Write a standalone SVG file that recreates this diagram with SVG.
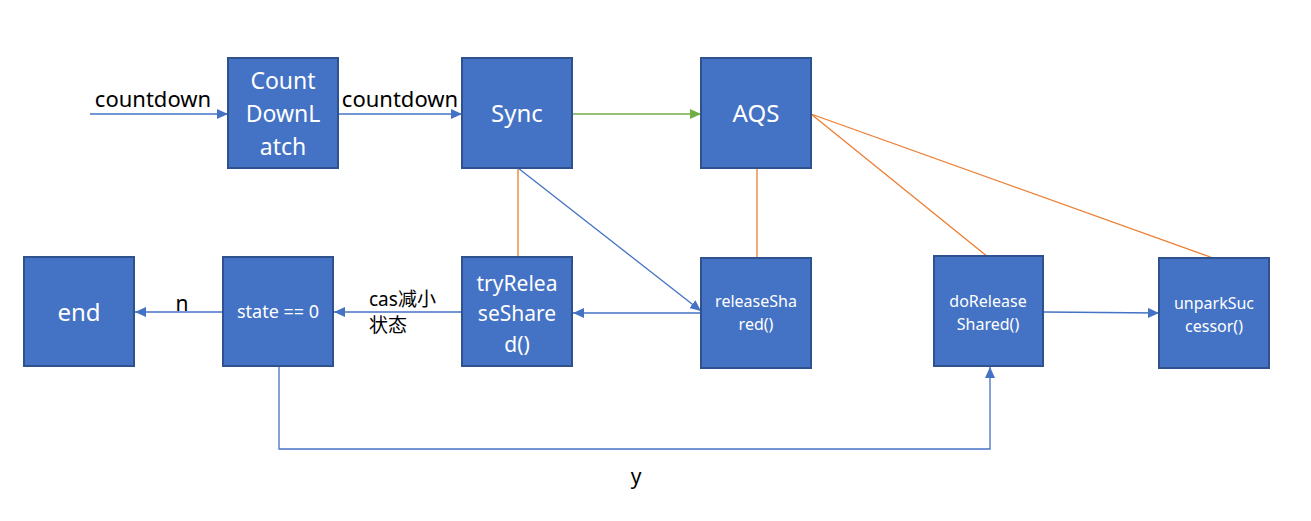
<svg xmlns="http://www.w3.org/2000/svg" width="1311" height="521" viewBox="0 0 1311 521">
<defs>
<style>
.box{fill:#4472C4;stroke:#2F528F;stroke-width:2}
.bt{fill:#FFFFFF;font-family:"Noto Sans","Noto Sans CJK SC",sans-serif;text-anchor:middle}
.lbl{fill:#000000;font-family:"Noto Sans","Noto Sans CJK SC",sans-serif}
.cb{stroke:#4472C4;stroke-width:1.3;fill:none}
.co{stroke:#ED7D31;stroke-width:1.3;fill:none}
.cg{stroke:#70AD47;stroke-width:1.3;fill:none}
</style>
<marker id="ab" markerUnits="userSpaceOnUse" markerWidth="12" markerHeight="10" refX="11" refY="5" orient="auto"><path d="M0,0 L11,5 L0,10 Z" fill="#4472C4"/></marker>
<marker id="ag" markerUnits="userSpaceOnUse" markerWidth="12" markerHeight="10" refX="11" refY="5" orient="auto"><path d="M0,0 L11,5 L0,10 Z" fill="#70AD47"/></marker>
</defs>
<rect width="1311" height="521" fill="#FFFFFF"/>
<g id="connectors">
<line class="cb" x1="90" y1="114" x2="228" y2="114" marker-end="url(#ab)"/>
<line class="cb" x1="339" y1="114" x2="462" y2="114" marker-end="url(#ab)"/>
<line class="cg" x1="573" y1="114" x2="701" y2="114" marker-end="url(#ag)"/>
<line class="co" x1="518" y1="168" x2="518" y2="257"/>
<line class="cb" x1="518" y1="168" x2="701" y2="311" marker-end="url(#ab)"/>
<line class="co" x1="757" y1="168" x2="757" y2="258"/>
<line class="co" x1="811" y1="114" x2="988" y2="257"/>
<line class="co" x1="811" y1="114" x2="1213" y2="258"/>
<line class="cb" x1="701" y1="313" x2="573" y2="313" marker-end="url(#ab)"/>
<line class="cb" x1="462" y1="312" x2="334" y2="312" marker-end="url(#ab)"/>
<line class="cb" x1="223" y1="312" x2="135" y2="312" marker-end="url(#ab)"/>
<line class="cb" x1="1044" y1="312" x2="1159" y2="313" marker-end="url(#ab)"/>
<polyline class="cb" points="279,366 279,449 990,449 990,367" marker-end="url(#ab)"/>
<text class="lbl" x="153" y="107" font-size="22" text-anchor="middle">countdown</text>
<text class="lbl" x="400" y="107" font-size="22" text-anchor="middle">countdown</text>
<text class="lbl" x="369" y="306" font-size="19">cas减小</text>
<text class="lbl" x="369" y="332" font-size="19">状态</text>
<text class="lbl" x="182" y="311" font-size="21" text-anchor="middle">n</text>
<text class="lbl" x="636" y="484" font-size="21" text-anchor="middle">y</text>
</g>
<g id="countdownlatch">
<rect class="box" x="228" y="58" width="110" height="110"/>
<text class="bt" font-size="23"><tspan x="283" y="89">Count</tspan><tspan x="283" y="122">DownL</tspan><tspan x="283" y="155">atch</tspan></text>
</g>
<g id="sync">
<rect class="box" x="462" y="58" width="110" height="110"/>
<text class="bt" x="517" y="122" font-size="24">Sync</text>
</g>
<g id="aqs">
<rect class="box" x="701" y="58" width="110" height="110"/>
<text class="bt" x="756" y="122" font-size="24">AQS</text>
</g>
<g id="end">
<rect class="box" x="24" y="257" width="110" height="109"/>
<text class="bt" x="79" y="321" font-size="24">end</text>
</g>
<g id="state">
<rect class="box" x="223" y="257" width="110" height="109"/>
<text class="bt" x="278" y="318" font-size="18">state == 0</text>
</g>
<g id="tryReleaseShared">
<rect class="box" x="462" y="257" width="110" height="109"/>
<text class="bt" font-size="21"><tspan x="517" y="291">tryRelea</tspan><tspan x="517" y="321">seShare</tspan><tspan x="517" y="352">d()</tspan></text>
</g>
<g id="releaseShared">
<rect class="box" x="701" y="258" width="110" height="110"/>
<text class="bt" font-size="16"><tspan x="756" y="307">releaseSha</tspan><tspan x="756" y="330">red()</tspan></text>
</g>
<g id="doReleaseShared">
<rect class="box" x="934" y="256" width="109" height="110"/>
<text class="bt" font-size="16"><tspan x="988" y="307">doRelease</tspan><tspan x="988" y="330">Shared()</tspan></text>
</g>
<g id="unparkSuccessor">
<rect class="box" x="1159" y="258" width="110" height="110"/>
<text class="bt" font-size="16"><tspan x="1214" y="309">unparkSuc</tspan><tspan x="1214" y="332">cessor()</tspan></text>
</g>
</svg>
